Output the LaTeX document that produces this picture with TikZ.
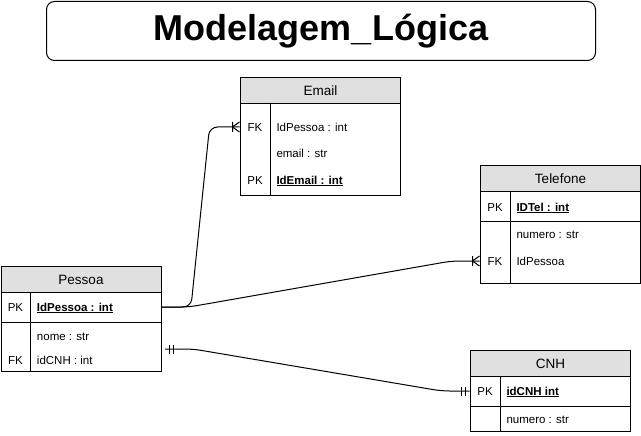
\documentclass[tikz,border=0pt]{standalone}
\usepackage{fontspec}
\setmainfont{Liberation Sans}
\usetikzlibrary{calc}
\definecolor{headgray}{HTML}{E0E0E0}
\begin{document}
\begin{tikzpicture}[x=1pt,y=-1pt,
  line width=1pt,
  hdr/.style={draw, fill=headgray, minimum width=160pt, minimum height=26pt,
    inner sep=0pt, anchor=north west, text height=9.7pt, text depth=0pt,
    font=\fontsize{13.5}{16}\selectfont},
  body/.style={draw, minimum width=160pt, inner sep=0pt, anchor=north west},
  row/.style={minimum width=160pt, minimum height=26pt, inner sep=0pt},
  fld/.style={anchor=west, inner sep=0pt, text height=8.2pt, text depth=0pt,
    font=\fontsize{11.5}{14}\selectfont},
  key/.style={fld, anchor=center},
  rel/.style={line width=1pt, rounded corners=8pt},
  manyend/.pic={\draw (-7,-5) -- (-7,5) (-7,0) -- (0,-5) (-7,0) -- (0,5);},
  oneend/.pic={\draw (-8,-4.5) -- (-8,4.5) (-4.5,-4.5) -- (-4.5,4.5);},
]
\useasboundingbox (0,0) rectangle (641,436);

% title
\node[draw, rounded corners=8pt, minimum width=549pt, minimum height=59pt,
  inner sep=0pt, anchor=north west, font=\fontsize{36}{40}\selectfont\bfseries]
  (title) at (46,1) {Modelagem\_Lógica};

% Email table
\node[hdr] (email) at (240,77) {Email};
\node[body, minimum height=92pt] (email-body) at (240,103) {};
\draw (270,103) -- (270,195);
\node[row] (email-fk) at (320,127) {};
\node[key] (email-k1) at (255,127) {FK};
\node[fld] (email-f1) at (276,127) {IdPessoa : int};
\node[fld] (email-f2) at (276,153) {email : str};
\node[key] (email-k3) at (255,180) {PK};
\node[fld] (email-f3) at (276,180) {\underline{\textbf{IdEmail : int}}};

% Telefone table
\node[hdr] (tel) at (480,165) {Telefone};
\node[body, minimum height=30pt] (tel-pkbox) at (480,191) {};
\node[body, minimum height=62pt] (tel-body) at (480,221) {};
\draw (510,191) -- (510,283);
\node[row] (tel-fk) at (560,261) {};
\node[key] (tel-k1) at (495,207) {PK};
\node[fld] (tel-f1) at (516,207) {\underline{\textbf{IDTel : int}}};
\node[fld] (tel-f2) at (516,234) {numero : str};
\node[key] (tel-k3) at (495,261) {FK};
\node[fld] (tel-f3) at (516,261) {IdPessoa};

% Pessoa table
\node[hdr] (pessoa) at (0.5,266) {Pessoa};
\node[body, minimum height=30pt] (pessoa-pkbox) at (0.5,292) {};
\node[body, minimum height=49pt] (pessoa-body) at (0.5,322) {};
\draw (30.5,292) -- (30.5,371);
\node[row] (pessoa-pk) at (80.5,307) {};
\node[key] (pessoa-k1) at (15.5,307) {PK};
\node[fld] (pessoa-f1) at (36.5,307) {\underline{\textbf{IdPessoa : int}}};
\node[fld] (pessoa-f2) at (36.5,336) {nome : str};
\node[key] (pessoa-k3) at (15.5,360) {FK};
\node[fld] (pessoa-f3) at (36.5,360) {idCNH : int};
\coordinate (pessoa-cnh) at (165,349);

% CNH table
\node[hdr] (cnh) at (470,350) {CNH};
\node[body, minimum height=30pt] (cnh-pkbox) at (470,376) {};
\node[body, minimum height=25pt] (cnh-body) at (470,406) {};
\draw (500,376) -- (500,431);
\node[row] (cnh-pk) at (550,391) {};
\node[key] (cnh-k1) at (485,391) {PK};
\node[fld] (cnh-f1) at (506,391) {\underline{\textbf{idCNH int}}};
\node[fld] (cnh-f2) at (506,419) {numero : str};

% relationships
\draw[rel] (pessoa-pk.east) -- ++(30,0) -- ($(email-fk.west)+(-30,0)$) -- (email-fk.west);
\pic at (email-fk.west) {manyend};
\draw[rel] (pessoa-pk.east) -- ++(28,0) -- ($(tel-fk.west)+(-28,0)$) -- (tel-fk.west);
\pic at (tel-fk.west) {manyend};
\draw[rel] (pessoa-cnh) -- ++(28,0) -- ($(cnh-pk.west)+(-28,0)$) -- (cnh-pk.west);
\pic at (cnh-pk.west) {oneend};
\pic[xscale=-1] at (pessoa-cnh) {oneend};
\end{tikzpicture}
\end{document}
